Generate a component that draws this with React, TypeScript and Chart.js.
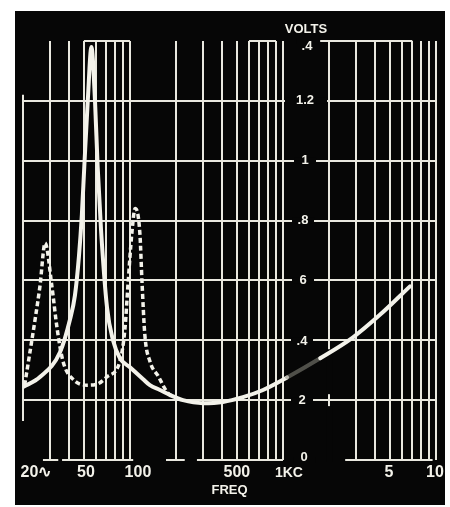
import React, { useEffect, useRef } from "react";
import { Chart, registerables } from "chart.js";

Chart.register(...registerables);

// Grid values (frequency in Hz, log scale) and volt levels
const FREQ_GRID = [20, 30, 40, 50, 60, 70, 80, 90, 100, 200, 300, 400, 500, 600, 700, 800, 900, 1000, 2000, 3000, 4000, 5000, 6000, 7000, 8000, 9000, 10000];
const VOLT_GRID = [0, 0.2, 0.4, 0.6, 0.8, 1, 1.2, 1.4];
const VOLT_LABELS = ["0", "2", ".4", "6", ".8", "1", "1.2", ".4"];
const FREQ_LABEL_VALUES = [20, 50, 100, 500, 1000, 5000, 10000];
const FREQ_LABELS = ["20∿", "50", "100", "500", "1KC", "5", "10"];

// Solid trace
const SOLID_FREQ = [20, 25.8, 34.9, 40.6, 43.7, 46.4, 48.5, 50.3, 53, 56, 59.1, 61.5, 64.7, 70.8, 77.5, 86, 100, 122, 135, 157, 183, 222, 300, 405, 548, 741, 1063, 1750, 2870, 4300, 6760];
const SOLID_VOLTS = [0.244, 0.277, 0.36, 0.47, 0.55, 0.68, 0.82, 0.98, 1.2, 1.38, 1.2, 0.98, 0.77, 0.51, 0.4, 0.34, 0.31, 0.27, 0.25, 0.234, 0.217, 0.2, 0.19, 0.194, 0.21, 0.234, 0.276, 0.34, 0.41, 0.485, 0.58];

// Dashed trace
const DASHED_FREQ = [20.5, 22.2, 24.0, 25.8, 27.9, 30.9, 33.4, 36.5, 42.4, 52.4, 62, 70.8, 86, 92.8, 97.2, 103, 108, 116, 120, 125, 135, 153, 175, 190];
const DASHED_VOLTS = [0.25, 0.36, 0.47, 0.58, 0.725, 0.58, 0.44, 0.33, 0.27, 0.25, 0.255, 0.278, 0.33, 0.44, 0.59, 0.76, 0.84, 0.76, 0.59, 0.42, 0.33, 0.28, 0.227, 0.212];

// Decoration: partial grid segments (in data units)
const ZERO_LINE_SEGMENTS = [[27, 34], [36, 105], [172, 228], [274, 1000], [2550, 9500]];
const TOP_LINE_SEGMENTS = [[50, 100], [600, 900], [1750, 7000]];

// Styles
const BG = "#060606";
const GRID = "#e9e8df";
const INK = "#f3f2ea";
const DIM = "rgba(140,140,130,0.55)";
const Y_LABEL_DX = [-2, -4, -4, -3, -3, -1, -1, 1];
const Y_LABEL_DY = [-3, 0, 1, 0, 0, 0, 0, 5];
const X_LABEL_DX = [13, 2, 8, 0, 6, -1, -1];

const deco = {
  id: "deco",
  beforeDraw(chart: any) {
    const { ctx, width, height } = chart;
    ctx.save();
    ctx.fillStyle = "#ffffff";
    ctx.fillRect(0, 0, width, height);
    ctx.fillStyle = BG;
    ctx.fillRect(15, 11, 430, 494);
    ctx.restore();
  },
  beforeDatasetsDraw(chart: any) {
    const { ctx, scales } = chart;
    const X = (f: number) => scales.x.getPixelForValue(f);
    const Y = (v: number) => scales.y.getPixelForValue(v);
    const lx = X(Math.sqrt(1000 * 2000));
    ctx.save();
    ctx.fillStyle = BG;
    ctx.fillRect(X(1000) + 2, Y(1.2) - 3, X(2000) - X(1000) - 4, 6);
    VOLT_GRID.forEach((v, i) => {
      const cx = lx + Y_LABEL_DX[i];
      ctx.fillRect(cx - 11, Y(v) - 3, 22, 6);
    });
    ctx.fillRect(X(2000) - 3, Y(0.37), 6, Y(0.22) - Y(0.37));
    ctx.fillRect(X(2000) - 3, Y(0.18), 6, Y(0) - Y(0.18) + 2);
    ctx.strokeStyle = GRID;
    ctx.lineWidth = 2;
    ctx.beginPath();
    ZERO_LINE_SEGMENTS.forEach(([a, b]) => {
      ctx.moveTo(X(a), Math.round(Y(0)));
      ctx.lineTo(X(b), Math.round(Y(0)));
    });
    TOP_LINE_SEGMENTS.forEach(([a, b]) => {
      ctx.moveTo(X(a), Math.round(Y(1.4)));
      ctx.lineTo(X(b), Math.round(Y(1.4)));
    });
    ctx.moveTo(Math.round(X(20)), Y(0.13));
    ctx.lineTo(Math.round(X(20)), Y(1.22));
    ctx.stroke();
    ctx.restore();
  },
  afterDatasetsDraw(chart: any) {
    const { ctx, scales, chartArea } = chart;
    const X = (f: number) => scales.x.getPixelForValue(f);
    const Y = (v: number) => scales.y.getPixelForValue(v);
    const lx = X(Math.sqrt(1000 * 2000));
    ctx.save();
    ctx.fillStyle = INK;
    ctx.textAlign = "center";
    ctx.textBaseline = "middle";
    ctx.font = "bold 13px 'Liberation Sans', Arial, sans-serif";
    VOLT_GRID.forEach((v, i) => {
      ctx.fillText(VOLT_LABELS[i], lx + Y_LABEL_DX[i], Y(v) + Y_LABEL_DY[i]);
    });
    ctx.fillText("VOLTS", lx, 29);
    ctx.fillText("FREQ", (chartArea.left + chartArea.right) / 2, 490);
    FREQ_LABEL_VALUES.forEach((f, i) => {
      const t = FREQ_LABELS[i];
      ctx.font = t === "1KC"
        ? "bold 14px 'Liberation Sans', Arial, sans-serif"
        : "bold 16px 'Liberation Sans', Arial, sans-serif";
      ctx.fillText(t, X(f) + X_LABEL_DX[i], 473);
    });
    ctx.restore();
  },
};

export default function App() {
  const ref = useRef<HTMLCanvasElement>(null);
  useEffect(() => {
    const solid = SOLID_FREQ.map((f, i) => ({ x: f, y: SOLID_VOLTS[i] }));
    const dashed = DASHED_FREQ.map((f, i) => ({ x: f, y: DASHED_VOLTS[i] }));
    const chart = new Chart(ref.current as HTMLCanvasElement, {
      type: "line",
      data: {
        datasets: [
          {
            data: solid,
            borderColor: INK,
            borderWidth: 4,
            pointRadius: 0,
            cubicInterpolationMode: "monotone",
            borderCapStyle: "round",
            segment: {
              borderColor: (c: any) =>
                c.p0.parsed.x >= 1000 && c.p1.parsed.x <= 1800 ? DIM : undefined,
            },
          } as any,
          {
            data: dashed,
            borderColor: INK,
            borderWidth: 3.5,
            borderDash: [5, 3],
            borderCapStyle: "butt",
            pointRadius: 0,
            cubicInterpolationMode: "monotone",
          } as any,
        ],
      },
      options: {
        animation: false,
        responsive: false,
        devicePixelRatio: 1,
        layout: { padding: { left: 23, right: 14, top: 41, bottom: 47 } },
        plugins: { legend: { display: false }, tooltip: { enabled: false } },
        scales: {
          x: {
            type: "logarithmic",
            min: 20,
            max: 10000,
            afterBuildTicks: (s: any) => {
              s.ticks = FREQ_GRID.map((v) => ({ value: v }));
            },
            ticks: { display: false },
            border: { display: false },
            grid: {
              drawTicks: false,
              lineWidth: 2,
              color: (c: any) => (c.tick && c.tick.value === 20 ? "rgba(0,0,0,0)" : GRID),
            },
          },
          y: {
            type: "linear",
            min: 0,
            max: 1.4,
            afterBuildTicks: (s: any) => {
              s.ticks = VOLT_GRID.map((v) => ({ value: v }));
            },
            ticks: { display: false },
            border: { display: false },
            grid: {
              drawTicks: false,
              lineWidth: 2,
              color: (c: any) =>
                c.tick && (c.tick.value === 0 || c.tick.value === 1.4) ? "rgba(0,0,0,0)" : GRID,
            },
          },
        },
      },
      plugins: [deco],
    } as any);
    return () => chart.destroy();
  }, []);
  return (
    <div style={{ position: "fixed", left: 0, top: 0, width: 450, height: 507, background: "#fff" }}>
      <canvas ref={ref} width={450} height={507} style={{ display: "block", width: 450, height: 507 }} />
    </div>
  );
}
